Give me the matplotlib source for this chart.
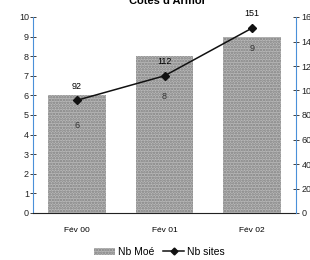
import matplotlib
matplotlib.use("Agg")
import matplotlib.pyplot as plt
import numpy as np
from matplotlib.lines import Line2D
from matplotlib.patches import Patch

categories = ["Fév 00", "Fév 01", "Fév 02"]
nb_moe = [6, 8, 9]
nb_sites = [92, 112, 151]
left_ticks = list(range(0, 11))
right_ticks = list(range(0, 161, 20))

plt.rcParams['font.family'] = ['Liberation Sans', 'DejaVu Sans']
plt.rcParams['hatch.linewidth'] = 1.2

fig = plt.figure(figsize=(3.1, 2.6), dpi=100)
ax = fig.add_axes([33/310, 1-213/260, (296-33)/310, (213-17)/260])
x = np.arange(len(categories))
bar_face = '#b9b9b9'
bar_hatch = '#808080'
ax.bar(x, nb_moe, width=0.66, color=bar_face, edgecolor=bar_hatch,
       hatch='......', linewidth=0, zorder=2)
ax.set_xlim(-0.5, 2.5)
ax.set_ylim(0, 10)
ax.set_yticks(left_ticks)
ax.set_xticks(x)
ax.set_xticklabels(categories, fontsize=6)
ax.tick_params(axis='y', labelsize=6.5, direction='inout', length=4, width=0.6, pad=1, colors='#222222')
ax.tick_params(axis='x', length=0, pad=10)
for s in ['top', 'right']:
    ax.spines[s].set_visible(False)
ax.spines['left'].set_color('#4a90d9')
ax.spines['left'].set_linewidth(0.8)
ax.spines['bottom'].set_color('#222222')
ax.spines['bottom'].set_linewidth(0.8)

ax2 = ax.twinx()
ax2.set_ylim(0, 160)
ax2.set_yticks(right_ticks)
ax2.tick_params(axis='y', labelsize=6.5, direction='inout', length=4, width=0.6, pad=2, colors='#222222')
for s in ['top', 'left', 'bottom']:
    ax2.spines[s].set_visible(False)
ax2.spines['right'].set_color('#4a90d9')
ax2.spines['right'].set_linewidth(0.8)
ax2.plot(x, nb_sites, color='#111111', lw=1.1, marker='D', ms=4.5, zorder=5)
for xi, v in zip(x, nb_sites):
    ax2.annotate(str(v), (xi, v), xytext=(0, 7), textcoords='offset points',
                 ha='center', va='bottom', fontsize=6.5)
label_off = [-18, -15, -15]
for xi, v, m, off in zip(x, nb_sites, nb_moe, label_off):
    ax2.annotate(str(m), (xi, v), xytext=(0, off), textcoords='offset points',
                 ha='center', va='center', fontsize=6.5, color='#333333')

fig.text(0.54, 1-0.5/260, "Cotes d'Armor", ha='center', va='center', fontsize=8, fontweight='bold')

handles = [Patch(facecolor=bar_face, edgecolor=bar_hatch, hatch='......', linewidth=0),
           Line2D([0], [0], color='#111111', lw=1.1, marker='D', ms=3.5)]
fig.legend(handles, ["Nb Moé", "Nb sites"], loc='center', bbox_to_anchor=(0.515, 1-252/260),
           ncol=2, frameon=False, fontsize=7.5, handlelength=2.0, handletextpad=0.3,
           columnspacing=0.8, borderpad=0)

fig.savefig("out.png", dpi=100)
